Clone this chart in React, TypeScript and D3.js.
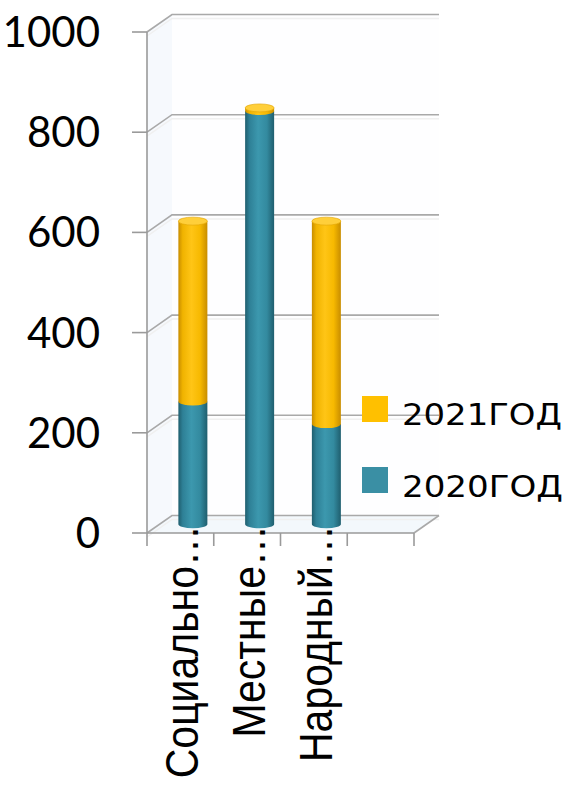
import React from 'react';
import * as d3 from 'd3';

// ---- data ----
const categories = ['Социально…', 'Местные…', 'Народный…', ''];
const values2020 = [245, 825, 200, 0];
const values2021 = [360, 6, 405, 0];
const yTicks = [0, 200, 400, 600, 800, 1000];
const legendLabels = ['2021ГОД', '2020ГОД'];

const W = 570;
const H = 790;
const DX = 25;
const DY = -17.5;

export default function App() {
  const yF = d3.scaleLinear().domain([0, 1000]).range([533, 32]);
  const x = d3
    .scaleBand<number>()
    .domain(categories.map((_, i) => i))
    .range([147, 414])
    .paddingInner(0);
  const bw = x.bandwidth();
  const barW = 29;
  const ry = 4;
  const midY = (v: number) => yF(v) + DY / 2;
  const x0 = 147, x1 = 414;

  const series = [
    { key: 's2020', vals: values2020, grad: 'gTeal', cap: '#4aa5ba' },
    { key: 's2021', vals: values2021, grad: 'gYellow', cap: '#ffcf3a' },
  ];

  const bars: React.ReactNode[] = [];
  categories.forEach((c, i) => {
    const cx = (x(i) as number) + bw / 2 + DX / 2;
    let acc = 0;
    const segs: { y0: number; y1: number; s: typeof series[0] }[] = [];
    series.forEach((s) => {
      const v = s.vals[i];
      if (v > 0) {
        segs.push({ y0: midY(acc), y1: midY(acc + v), s });
        acc += v;
      }
    });
    segs.forEach((sg, k) => {
      const l = cx - barW / 2, r = cx + barW / 2;
      const d = `M${l},${sg.y1} L${l},${sg.y0} A${barW / 2},${ry} 0 0 0 ${r},${sg.y0} L${r},${sg.y1} Z`;
      bars.push(<path key={`b${i}-${k}`} d={d} fill={`url(#${sg.s.grad})`} />);
      if (k === segs.length - 1) {
        bars.push(
          <ellipse key={`c${i}`} cx={cx} cy={sg.y1} rx={barW / 2} ry={ry} fill={sg.s.cap} stroke={sg.s.key === 's2020' ? '#2e7f93' : '#e0a200'} strokeWidth={0.6} />
        );
      }
    });
  });

  return (
    <svg width={W} height={H} style={{ position: 'absolute', left: 0, top: 0, background: '#fff' }}>
      <defs>
        <linearGradient id="gTeal" x1="0" x2="1" y1="0" y2="0">
          <stop offset="0" stopColor="#1f5e6e" />
          <stop offset="0.15" stopColor="#2e8096" />
          <stop offset="0.45" stopColor="#3c98ae" />
          <stop offset="0.75" stopColor="#338a9f" />
          <stop offset="1" stopColor="#1f5e6e" />
        </linearGradient>
        <linearGradient id="gYellow" x1="0" x2="1" y1="0" y2="0">
          <stop offset="0" stopColor="#c88d00" />
          <stop offset="0.15" stopColor="#f0b300" />
          <stop offset="0.45" stopColor="#ffc516" />
          <stop offset="0.75" stopColor="#f7b900" />
          <stop offset="1" stopColor="#c88d00" />
        </linearGradient>
      </defs>

      {/* walls and floor */}
      <polygon
        points={`${x0},${yF(1000)} ${x0 + DX},${yF(1000) + DY} ${x0 + DX},${yF(0) + DY} ${x0},${yF(0)}`}
        fill="#f6f9fd"
      />
      <rect x={x0 + DX} y={yF(1000) + DY} width={x1 - x0} height={yF(0) - yF(1000)} fill="#fefeff" />
      <polygon
        points={`${x0},${yF(0)} ${x0 + DX},${yF(0) + DY} ${x1 + DX},${yF(0) + DY} ${x1},${yF(0)}`}
        fill="#f3f8fc"
      />

      {/* gridlines */}
      {yTicks.map((t) => (
        <g key={`g${t}`}>
          <polyline
            points={`${x0},${yF(t) + 4} ${x0 + DX},${yF(t) + DY + 4} ${x1 + DX},${yF(t) + DY + 4}`}
            fill="none"
            stroke="#f0f0f0"
            strokeWidth={1.5}
          />
          <polyline
            points={`${x0},${yF(t)} ${x0 + DX},${yF(t) + DY} ${x1 + DX},${yF(t) + DY}`}
            fill="none"
            stroke="#a9a9a9"
            strokeWidth={1.6}
          />
        </g>
      ))}
      <line x1={x1} y1={yF(0)} x2={x1 + DX} y2={yF(0) + DY} stroke="#a9a9a9" strokeWidth={1.6} />

      {/* bars */}
      {bars}

      {/* axes */}
      <line x1={x0} y1={yF(1000)} x2={x0} y2={yF(0)} stroke="#9a9a9a" strokeWidth={1.6} />
      <line x1={x0} y1={yF(0)} x2={x1} y2={yF(0)} stroke="#9a9a9a" strokeWidth={1.6} />
      {yTicks.map((t) => (
        <line key={`yt${t}`} x1={132} y1={yF(t)} x2={x0} y2={yF(t)} stroke="#9a9a9a" strokeWidth={1.6} />
      ))}
      {categories.map((_, i) => (
        <line key={`xt${i}`} x1={x(i) as number} y1={yF(0)} x2={x(i) as number} y2={yF(0) + 13} stroke="#9a9a9a" strokeWidth={1.6} />
      ))}
      <line x1={x1} y1={yF(0)} x2={x1} y2={yF(0) + 13} stroke="#9a9a9a" strokeWidth={1.6} />

      {/* y labels */}
      {yTicks.map((t) => (
        <text
          key={`yl${t}`}
          x={100}
          y={yF(t) + 15}
          textAnchor="end"
          fontFamily="Lato, 'Liberation Sans', sans-serif"
          fontSize={42}
          fill="#000"
        >
          {t}
        </text>
      ))}

      {/* category labels */}
      {categories.map((c, i) =>
        c ? (
          <text
            key={`cl${i}`}
            transform={`translate(${(x(i) as number) + bw / 2 + 18},525) rotate(-90) scale(1,1.12)`}
            textAnchor="end"
            fontFamily="'Liberation Sans', Arial, sans-serif"
            fontSize={41}
            fill="#000"
          >
            {c}
          </text>
        ) : null
      )}

      {/* legend */}
      <rect x={362} y={396} width={26} height={26} fill="#ffc000" />
      <text x={402} y={425} fontFamily="'DejaVu Sans', 'Open Sans', sans-serif" fontSize={31} textLength={160} lengthAdjust="spacingAndGlyphs" fill="#000">
        {legendLabels[0]}
      </text>
      <rect x={362} y={467} width={26} height={26} fill="#3a8fa4" />
      <text x={402} y={497} fontFamily="'DejaVu Sans', 'Open Sans', sans-serif" fontSize={31} textLength={161} lengthAdjust="spacingAndGlyphs" fill="#000">
        {legendLabels[1]}
      </text>
    </svg>
  );
}
